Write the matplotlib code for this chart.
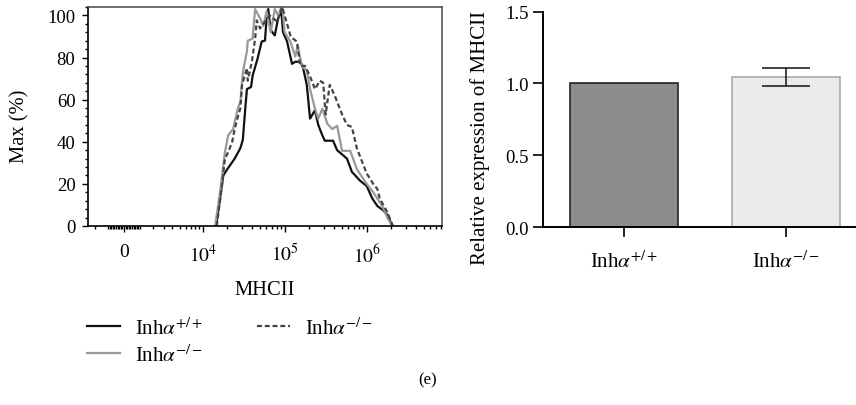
import numpy as np
import matplotlib
matplotlib.use("Agg")
import matplotlib.pyplot as plt
from matplotlib.ticker import FixedLocator, AutoMinorLocator

plt.rcParams['font.family'] = 'serif'
plt.rcParams['font.serif'] = ['Liberation Serif', 'DejaVu Serif']
plt.rcParams['mathtext.fontset'] = 'stix'

# histogram data: x as log10(MHCII intensity), y as % of max
wt_logx = [4.16, 4.20, 4.25, 4.30, 4.39, 4.46, 4.49, 4.52, 4.54, 4.59, 4.61, 4.67, 4.72, 4.76, 4.78,
           4.80, 4.83, 4.88, 4.92, 4.96, 4.98, 5.03, 5.09, 5.13, 5.19, 5.22, 5.27, 5.31, 5.37, 5.41,
           5.46, 5.49, 5.59, 5.64, 5.67, 5.76, 5.82, 5.92, 6.00, 6.07, 6.13, 6.20, 6.26, 6.31]
wt_max = [0, 10, 24, 27, 32, 37, 41, 56, 65, 66, 71.5, 79.5, 87.6, 88, 98.6,
          103, 93, 90.5, 98.6, 102, 92, 87.6, 77, 78, 78, 76, 67, 51, 55, 48,
          43, 40.5, 40.5, 36, 35, 32, 25.7, 21.5, 19, 13, 9.5, 7.5, 5, 0]

ko1_logx = [4.15, 4.21, 4.27, 4.31, 4.37, 4.43, 4.46, 4.49, 4.54, 4.55, 4.61, 4.64, 4.70, 4.74, 4.78,
            4.83, 4.88, 4.92, 4.97, 5.00, 5.07, 5.13, 5.16, 5.21, 5.27, 5.31, 5.37, 5.41, 5.46, 5.52,
            5.58, 5.64, 5.70, 5.80, 5.88, 6.00, 6.08, 6.19, 6.26, 6.32]
ko1_max = [0, 16, 35, 43, 46, 56, 59, 73, 83, 88, 89, 103, 98.6, 95, 102,
           92, 103, 100, 105, 92, 87.6, 80.5, 85.7, 75.7, 74, 65, 55.7, 51, 55.7, 48.6,
           46, 47.6, 35.7, 35.7, 27, 20, 16, 9.5, 3.3, 0]

ko2_logx = [4.17, 4.24, 4.27, 4.31, 4.36, 4.39, 4.43, 4.46, 4.48, 4.54, 4.55, 4.60, 4.64, 4.66, 4.70,
            4.74, 4.82, 4.91, 4.97, 5.03, 5.07, 5.10, 5.15, 5.19, 5.25, 5.31, 5.37, 5.43, 5.47, 5.50,
            5.55, 5.61, 5.70, 5.76, 5.82, 5.88, 5.96, 6.00, 6.08, 6.13, 6.16, 6.25, 6.32]
ko2_max = [0, 21, 32, 35, 40, 46, 52, 56, 67, 75, 69, 78, 89, 97.6, 93.8,
           96, 100, 97, 104, 96, 90.5, 89, 87.6, 76, 76, 71, 65, 69, 68, 53,
           67, 62, 53, 48, 47, 37, 29, 25, 20, 17.6, 13, 6.7, 0]

# bar chart data
groups = [r'Inh$\alpha^{+/+}$', r'Inh$\alpha^{-/-}$']
rel_expr = [1.0, 1.045]
rel_err = [0, 0.064]

fig = plt.figure(figsize=(8.56, 4.06), dpi=100)

# ---- histogram panel
ax1 = fig.add_axes([0.1028, 0.4409, 0.4136, 0.5394])
ax1.set_xscale('asinh', linear_width=2200)
ax1.plot(10 ** np.array(wt_logx), wt_max, color='#111111', lw=1.6, label=groups[0])
ax1.plot(10 ** np.array(ko1_logx), ko1_max, color='#999999', lw=1.6, label=groups[1])
ax1.plot(10 ** np.array(ko2_logx), ko2_max, color='#444444', lw=1.6, ls=(0, (2.2, 1.3)), label=groups[1])
ax1.set_xlim(-2620, 8.3e6)
ax1.set_ylim(0, 104)
ax1.xaxis.set_major_locator(FixedLocator([0, 1e4, 1e5, 1e6]))
ax1.set_xticklabels(['0', '$10^{4}$', '$10^{5}$', '$10^{6}$'])
minors = [-k * 10 ** n for n in (2, 3) for k in range(1, 10) if k * 10 ** n < 2600]
minors += [k * 10 ** n for n in range(2, 7) for k in range(1, 10) if k > 1 or n < 4]
ax1.xaxis.set_minor_locator(FixedLocator(minors))
ax1.set_yticks([0, 20, 40, 60, 80, 100])
ax1.yaxis.set_minor_locator(AutoMinorLocator(5))
ax1.tick_params(axis='both', which='major', direction='out', length=4, width=1, labelsize=13.5, pad=5)
ax1.tick_params(axis='x', which='major', labelsize=14, pad=8)
ax1.tick_params(axis='both', which='minor', direction='out', length=2.5, width=1)
ax1.set_ylabel('Max (%)', fontsize=14.8)
ax1.yaxis.set_label_coords(-0.164, 0.46)
ax1.set_xlabel('MHCII', fontsize=14.8, labelpad=11)
ax1.spines['top'].set_color('#555555')
ax1.spines['right'].set_color('#555555')
for s in ax1.spines.values():
    s.set_linewidth(1.2)

# ---- bar panel
ax2 = fig.add_axes([0.6343, 0.4384, 0.3657, 0.5303])
xpos = np.arange(len(groups))
ax2.bar(xpos, rel_expr, width=0.667, color=['#8c8c8c', '#ebebeb'],
        edgecolor=['#222222', '#aaaaaa'], linewidth=1.2, zorder=2)
ax2.errorbar(xpos[1:], rel_expr[1:], yerr=rel_err[1:], fmt='none', ecolor='#222222',
             elinewidth=1.2, capsize=17.5, capthick=1.2, zorder=3)
ax2.set_xlim(-0.5, 1.43)
ax2.set_ylim(0, 1.5)
ax2.set_yticks([0, 0.5, 1.0, 1.5])
ax2.set_yticklabels(['0.0', '0.5', '1.0', '1.5'])
ax2.set_xticks(xpos)
ax2.set_xticklabels(groups)
ax2.tick_params(axis='y', direction='out', length=7, width=1.2, labelsize=13.5, pad=3)
ax2.tick_params(axis='x', direction='out', length=7, width=1.2, labelsize=15, pad=10)
ax2.set_ylabel('Relative expression of MHCII', fontsize=15)
ax2.yaxis.set_label_coords(-0.169, 0.42)
ax2.spines['top'].set_visible(False)
ax2.spines['right'].set_visible(False)
ax2.spines['left'].set_linewidth(1.4)
ax2.spines['bottom'].set_linewidth(1.4)

h, l = ax1.get_legend_handles_labels()
fig.legend(h, l, ncol=2, loc='upper left', bbox_to_anchor=(0.1016, 0.217), frameon=False,
           borderpad=0, borderaxespad=0, fontsize=15, handlelength=1.6, handletextpad=0.72,
           columnspacing=2.55, labelspacing=0.25)

fig.text(0.5, 0.064, '(e)', ha='center', va='center', fontsize=12)

fig.savefig('out.png', dpi=100)
